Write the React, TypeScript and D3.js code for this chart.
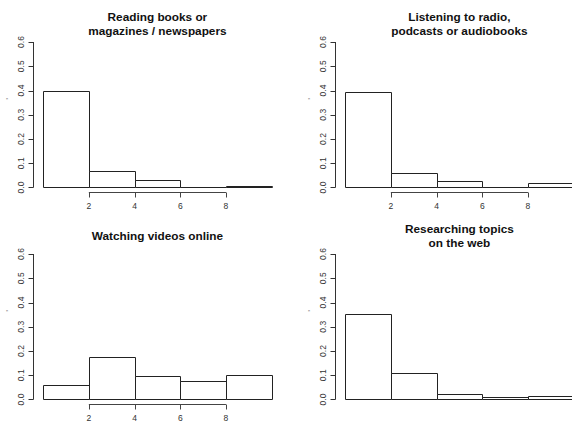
import { useRef, useEffect } from 'react';
import * as d3 from 'd3';

// histogram breaks and densities
const breaks = [0, 2, 4, 6, 8, 10];
const reading = [0.4, 0.066, 0.03, 0, 0.005];
const listening = [0.394, 0.059, 0.028, 0, 0.019];
const videos = [0.06, 0.174, 0.098, 0.075, 0.1];
const research = [0.352, 0.109, 0.022, 0.01, 0.014];

const yTicks = [0, 0.1, 0.2, 0.3, 0.4, 0.5, 0.6];
const xTicks = [2, 4, 6, 8];

const panels = [
  { title: ['Reading books or', 'magazines / newspapers'], values: reading, ox: 0, oy: 0, xAxis: true },
  { title: ['Listening to radio,', 'podcasts or audiobooks'], values: listening, ox: 302, oy: 0, xAxis: true },
  { title: ['Watching videos online'], values: videos, ox: 0, oy: 212, xAxis: true },
  { title: ['Researching topics', 'on the web'], values: research, ox: 302, oy: 212, xAxis: false },
];

export default function App() {
  const svgRef = useRef(null);
  const width = 572, height = 424;

  function renderPanels() {
    const svg = d3.select(svgRef.current);
    svg.selectAll('*').remove();

    // R-style plot region, 4% padding on both axes
    var x = d3.scaleLinear().domain([-0.4, 10.4]).range([34, 280.8]);
    var y = d3.scaleLinear().domain([-0.024, 0.624]).range([193.3, 36.2]);

    panels.forEach((p) => {
      const g = svg.append('g').attr('transform', 'translate(' + p.ox + ',' + p.oy + ')');
      const cx = (x.range()[0] + x.range()[1]) / 2;

      // title
      const title = g.append('text')
        .attr('text-anchor', 'middle')
        .attr('font-family', 'Liberation Sans, Arial, sans-serif')
        .attr('font-weight', 'bold')
        .attr('font-size', '11.8px')
        .attr('fill', '#111');
      const firstY = p.title.length === 1 ? 24 : 17;
      title.selectAll('tspan')
        .data(p.title)
        .join('tspan')
        .attr('x', cx)
        .attr('y', (d, i) => firstY + i * 14)
        .attr('dy', '0.35em')
        .text(d => d);

      // bars
      g.selectAll('path.bar')
        .data(p.values)
        .join('path')
        .attr('class', 'bar')
        .attr('d', (d, i) => {
          const x0 = Math.round(x(breaks[i])) + 0.5, x1 = Math.round(x(breaks[i + 1])) + 0.5;
          const y0 = Math.round(y(0)) + 0.5, y1 = Math.round(y(d)) + 0.5;
          return `M${x0},${y0}V${y1}H${x1}V${y0}Z`;
        })
        .attr('fill', 'white')
        .attr('stroke', '#222')
        .attr('stroke-width', 1);

      // y axis
      const ax = Math.round(x.range()[0]) - 0.5;
      g.append('line')
        .attr('x1', ax).attr('x2', ax)
        .attr('y1', y(0)).attr('y2', y(0.6))
        .attr('stroke', '#333');
      g.selectAll('line.ytick')
        .data(yTicks)
        .join('line')
        .attr('class', 'ytick')
        .attr('x1', ax).attr('x2', ax - 5)
        .attr('y1', d => Math.round(y(d)) + 0.5).attr('y2', d => Math.round(y(d)) + 0.5)
        .attr('stroke', '#333');
      g.selectAll('text.ylab')
        .data(yTicks)
        .join('text')
        .attr('class', 'ylab')
        .attr('transform', d => 'translate(' + (ax - 12.5) + ',' + y(d) + ') rotate(-90)')
        .attr('text-anchor', 'middle')
        .attr('dy', '0.35em')
        .attr('font-family', 'Liberation Sans, Arial, sans-serif')
        .attr('font-size', '8.5px')
        .attr('fill', '#333')
        .text(d => d3.format('.1f')(d));

      // the stray y-axis label mark
      g.append('text')
        .attr('transform', 'translate(' + (ax - 27) + ',99) rotate(-90)')
        .attr('text-anchor', 'middle')
        .attr('font-family', 'Liberation Sans, Arial, sans-serif')
        .attr('font-size', '8px')
        .attr('fill', '#555')
        .text(',');

      // x axis
      if (p.xAxis) {
        const ay = Math.round(y.range()[0]) - 0.5;
        g.append('line')
          .attr('x1', x(2)).attr('x2', x(8))
          .attr('y1', ay).attr('y2', ay)
          .attr('stroke', '#444');
        g.selectAll('line.xtick')
          .data(xTicks)
          .join('line')
          .attr('class', 'xtick')
          .attr('x1', d => Math.round(x(d)) + 0.5).attr('x2', d => Math.round(x(d)) + 0.5)
          .attr('y1', ay).attr('y2', ay + 5)
          .attr('stroke', '#444');
        g.selectAll('text.xlab')
          .data(xTicks)
          .join('text')
          .attr('class', 'xlab')
          .attr('x', d => x(d))
          .attr('y', ay + 14)
          .attr('dy', '0.35em')
          .attr('text-anchor', 'middle')
          .attr('font-family', 'Liberation Sans, Arial, sans-serif')
          .attr('font-size', '8.5px')
          .attr('fill', '#333')
          .text(d => d);
      }
    });
  }

  useEffect(() => {
    renderPanels();
  }, []);

  return (
    <div style={{ position: 'absolute', left: 0, top: 0, width: width, height: height, overflow: 'hidden', background: 'white' }}>
      <svg ref={svgRef} width={width} height={height} style={{ display: 'block' }} />
    </div>
  );
}
